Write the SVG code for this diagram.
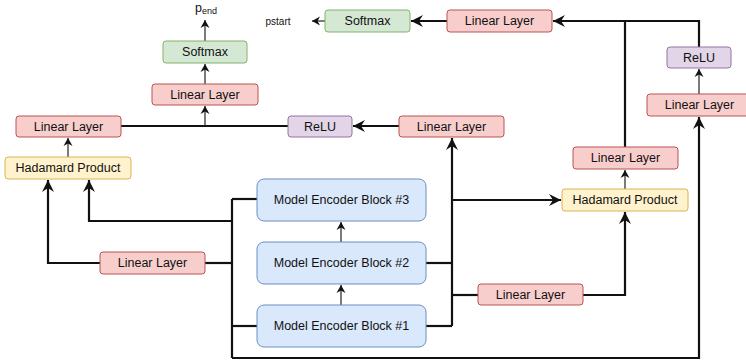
<svg xmlns="http://www.w3.org/2000/svg" width="746" height="364" viewBox="0 0 746 364">
<style>
text{font-family:"Liberation Sans",Arial,sans-serif;font-size:12.5px;fill:#111;text-anchor:middle;dominant-baseline:central}
.red{fill:#f8cecc;stroke:#b85450;stroke-width:1}
.grn{fill:#d5e8d4;stroke:#82b366;stroke-width:1}
.pur{fill:#e1d5e7;stroke:#9673a6;stroke-width:1}
.yel{fill:#fff2cc;stroke:#d6b656;stroke-width:1}
.blu{fill:#dae8fc;stroke:#6c8ebf;stroke-width:1}
.th{fill:none;stroke:#111;stroke-width:2.2}
.tn{fill:none;stroke:#222;stroke-width:1.2}
</style>
<defs>
<marker id="ab" markerUnits="userSpaceOnUse" markerWidth="14" markerHeight="12" refX="12" refY="6" orient="auto" overflow="visible">
<path d="M0,0 L12,6 L0,12 L4,6 Z" fill="#111"/>
</marker>
<marker id="as" markerUnits="userSpaceOnUse" markerWidth="10" markerHeight="10" refX="8" refY="4.5" orient="auto" overflow="visible">
<path d="M0,0 L8,4.5 L0,9 L2.5,4.5 Z" fill="#111"/>
</marker>
</defs>
<g id="connectors">
<path class="th" d="M121,126 H288"/>
<path class="tn" d="M205,126 V106" marker-end="url(#as)"/>
<path class="th" d="M399,126 H353" marker-end="url(#ab)"/>
<path class="th" d="M452,326 V138" marker-end="url(#ab)"/>
<path class="th" d="M426,326 H452"/>
<path class="th" d="M426,263 H452"/>
<path class="th" d="M452,200 H561" marker-end="url(#ab)"/>
<path class="th" d="M452,295 H478"/>
<path class="th" d="M583,295 H625 V212" marker-end="url(#ab)"/>
<path class="tn" d="M625,189 V170" marker-end="url(#as)"/>
<path class="th" d="M625,147 V21"/>
<path class="th" d="M699,47 V21 H553" marker-end="url(#ab)"/>
<path class="tn" d="M699,94 V69" marker-end="url(#as)"/>
<path class="th" d="M232,358 H699 V117" marker-end="url(#ab)"/>
<path class="th" d="M232,199 V358"/>
<path class="th" d="M232,199 H258"/>
<path class="th" d="M232,326 H258"/>
<path class="th" d="M232,221 H89 V180" marker-end="url(#ab)"/>
<path class="th" d="M232,263 H205"/>
<path class="th" d="M100,263 H48 V180" marker-end="url(#ab)"/>
<path class="tn" d="M68,157 V138" marker-end="url(#as)"/>
<path class="th" d="M447,21 H411" marker-end="url(#ab)"/>
<path class="tn" d="M325,21 H312" marker-end="url(#as)"/>
<path class="tn" d="M205,84 V64" marker-end="url(#as)"/>
<path class="tn" d="M205,41 V20" marker-end="url(#as)"/>
<path class="tn" d="M341,305 V285" marker-end="url(#as)"/>
<path class="tn" d="M341,242 V222" marker-end="url(#as)"/>
</g>
<g id="pend"><text x="206" y="8" style="font-size:12.5px">p<tspan style="font-size:9px" dy="3">end</tspan></text></g>
<g id="pstart"><text x="278" y="21" style="font-size:10px">pstart</text></g>
<g id="softmax-top"><rect class="grn" x="163" y="41" width="84" height="22" rx="3"/><text x="205" y="52">Softmax</text></g>
<g id="linear-top"><rect class="red" x="152" y="84" width="106" height="21" rx="3"/><text x="205" y="94.5">Linear Layer</text></g>
<g id="linear-left"><rect class="red" x="16" y="116" width="105" height="21" rx="3"/><text x="68.5" y="126.5">Linear Layer</text></g>
<g id="hadamard-left"><rect class="yel" x="5" y="157" width="126" height="22" rx="3"/><text x="68" y="168">Hadamard Product</text></g>
<g id="relu-mid"><rect class="pur" x="288" y="116" width="64" height="21" rx="3"/><text x="320" y="126.5">ReLU</text></g>
<g id="linear-mid"><rect class="red" x="399" y="116" width="105" height="21" rx="3"/><text x="451.5" y="126.5">Linear Layer</text></g>
<g id="softmax-right"><rect class="grn" x="325" y="10" width="85" height="22" rx="3"/><text x="367.5" y="21">Softmax</text></g>
<g id="linear-topright"><rect class="red" x="447" y="10" width="105" height="22" rx="3"/><text x="499.5" y="21">Linear Layer</text></g>
<g id="relu-right"><rect class="pur" x="667" y="47" width="64" height="21" rx="3"/><text x="699" y="57.5">ReLU</text></g>
<g id="linear-right"><rect class="red" x="647" y="94" width="105" height="22" rx="3"/><text x="699.5" y="105">Linear Layer</text></g>
<g id="linear-right2"><rect class="red" x="573" y="147" width="105" height="22" rx="3"/><text x="625.5" y="158">Linear Layer</text></g>
<g id="hadamard-right"><rect class="yel" x="562" y="189" width="126" height="22" rx="3"/><text x="625" y="200">Hadamard Product</text></g>
<g id="linear-bottomright"><rect class="red" x="478" y="284" width="105" height="21" rx="3"/><text x="530.5" y="294.5">Linear Layer</text></g>
<g id="linear-bottomleft"><rect class="red" x="100" y="252" width="105" height="22" rx="3"/><text x="152.5" y="263">Linear Layer</text></g>
<g id="enc3"><rect class="blu" x="257" y="179" width="169" height="42" rx="7"/><text x="341.5" y="200">Model Encoder Block #3</text></g>
<g id="enc2"><rect class="blu" x="257" y="242" width="169" height="42" rx="7"/><text x="341.5" y="263">Model Encoder Block #2</text></g>
<g id="enc1"><rect class="blu" x="257" y="305" width="169" height="42" rx="7"/><text x="341.5" y="326">Model Encoder Block #1</text></g>
</svg>
